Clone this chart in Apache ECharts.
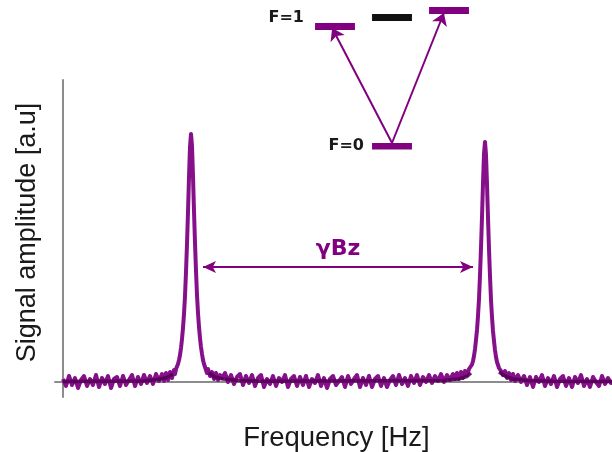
<!DOCTYPE html>
<html>
<head>
<meta charset="utf-8">
<script src="https://cdn.jsdelivr.net/npm/echarts@6/dist/echarts.min.js"></script>
<style>
  html, body { margin: 0; padding: 0; background: #fff; }
  #root { width: 612px; height: 452px; }
</style>
</head>
<body>
<div id="root"></div>
<script>
// spectrum: [frequency, amplitude]
const baselineLeft = [
  [0, 3], [3, -4], [6, 6], [9, -3], [12, 4], [15, -6], [18, 2], [21, 6], [24, -4],
  [27, 3], [30, -3], [33, 7], [36, -5], [39, 4], [42, -2], [45, 6], [48, -6], [51, 3],
  [54, 5], [57, -4], [60, 6], [63, -3], [66, 2], [69, 7], [72, -4], [75, 5],
  [78, -2], [81, 7], [84, -1], [87, 6], [90, -2], [93, 8], [96, 1]
];
const peakLeft = [
  [99, 8], [101, 1], [103, 9], [105, 2], [107, 10], [109, 4], [111, 12], [112, 8],
  [113, 13], [114, 15], [115, 18], [116, 22], [117, 27], [118, 34], [119, 43], [120, 54],
  [121, 68], [122, 86], [123, 110], [124, 138], [125, 170], [126, 205], [127, 235],
  [128, 248],
  [129, 236], [130, 206], [131, 171], [132, 139], [133, 111], [134, 87], [135, 69],
  [136, 55], [137, 44], [138, 35], [139, 28], [140, 22], [141, 18], [142, 15], [143, 13],
  [144, 9], [145, 13], [147, 6], [149, 10], [151, 3], [153, 9], [155, 2], [157, 7]
];
const baselineMid = [
  [159, 4], [162, 9], [165, 0], [168, 7], [171, -2], [174, 5], [177, 8], [180, -3],
  [183, 6], [186, -1], [189, 7], [192, -4], [195, 4], [198, 7], [201, -5], [204, 3],
  [207, -2], [210, 6], [213, -4], [216, 4], [219, 0], [222, 7], [225, -5], [228, 3],
  [231, 6], [234, -4], [237, 5], [240, -3], [243, 6], [246, -5], [249, 3], [252, -1],
  [255, 7], [258, -4], [261, 4], [264, -6], [267, 3], [270, 6], [273, -3], [276, 1],
  [279, 5], [282, -5], [285, 6], [288, -2], [291, 3], [294, 7], [297, -5], [300, 4],
  [303, -3], [306, 6], [309, -5], [312, 3], [315, 6], [318, -4], [321, 4], [324, -5],
  [327, 2], [330, 6], [333, -3], [336, 7], [339, -2], [342, 4], [345, -4], [348, 6],
  [351, -1], [354, 7], [357, -3], [360, 5], [363, 0], [366, 7], [369, -1], [372, 6],
  [375, 1], [378, 8], [381, 0], [384, 7], [387, 2], [390, 8]
];
const peakRight = [
  [392, 3], [394, 9], [396, 3], [398, 10], [400, 4], [402, 11], [404, 7], [406, 13],
  [407, 12.5], [408, 14.5], [409, 17.5], [410, 21], [411, 26], [412, 33], [413, 42],
  [414, 52], [415, 66], [416, 83], [417, 107], [418, 134], [419, 165], [420, 199],
  [421, 228], [422, 240],
  [423, 227], [424, 198], [425, 164], [426, 133], [427, 106], [428, 82], [429, 65],
  [430, 51], [431, 41], [432, 32], [433, 25], [434, 20], [435, 17], [436, 14], [437, 12.5],
  [438, 11], [440, 7], [442, 11], [444, 4], [446, 9], [448, 2], [450, 8], [452, 1]
];
const baselineRight = [
  [455, 7], [458, 0], [461, 6], [464, -3], [467, 5], [470, -5], [473, 5], [476, 0],
  [479, 7], [482, -4], [485, 4], [488, -2], [491, 6], [494, -5], [497, 3], [500, 6],
  [503, -4], [506, 4], [509, -5], [512, 5], [515, -1], [518, 7], [521, -4], [524, 3],
  [527, -5], [530, 5], [533, 0], [536, -4], [539, 6], [542, -2], [545, 4], [548, -1],
  [549, 2]
];
// dense middle of the noise band (darker core), '-' breaks it at the peaks
const baselineCore = [
  [0, 0.5], [80, 1], [95, 2.5], [104, 4.5], [110, 8], [111, '-'],
  [146, 9], [152, 5], [160, 3], [175, 1.5], [200, 0.8], [380, 1.5], [395, 3],
  [404, 5.5], [408, 9], [409, '-'],
  [436, 10], [442, 6], [450, 3], [465, 1.5], [490, 0.8], [549, 0.5]
];
// splitting between the two peaks (gamma*Bz arrow)
const splitting = [[140, 115], [410, 115]];

// level diagram: mF sublevels, energies above F=0
const mF = [-1, 0, 1];
const f1Energy = [120, 129, 136];
const f0Energy = 0;
const barHalf = 0.35;
const transitions = [
  [[0, 3], [-1.05, 118]],
  [[0, 3], [0.91, 133]]
];

const purple = '#800080';
const signal = [].concat(baselineLeft, peakLeft, baselineMid, peakRight, baselineRight);

const levelLines = mF.map((m, i) => ({
  coords: [[m - barHalf, f1Energy[i]], [m + barHalf, f1Energy[i]]],
  lineStyle: { color: m === 0 ? '#111' : purple }
}));
levelLines.push({
  coords: [[-barHalf, f0Energy], [barHalf, f0Energy]],
  lineStyle: { color: purple }
});

let myChart = echarts.init(document.getElementById('root'), null, { renderer: 'canvas' });

let option = {
  animation: false,
  grid: [
    { left: 55, right: 0, top: 80, bottom: 55, outerBoundsMode: 'none' },
    { left: 278, width: 228, top: 0, height: 146, outerBoundsMode: 'none' }
  ],
  xAxis: [
    {
      type: 'value', min: -8, max: 549,
      axisLine: { onZero: true, lineStyle: { color: '#8c8c8c', width: 2 } },
      axisTick: { show: false }, axisLabel: { show: false }, splitLine: { show: false },
      name: 'Frequency [Hz]', nameLocation: 'middle', nameGap: 27,
      nameTextStyle: { fontFamily: 'Liberation Sans', fontSize: 27.5, color: '#1a1a1a', padding: [0, 0, 0, 6] }
    },
    { gridIndex: 1, type: 'value', min: -2, max: 2, show: false }
  ],
  yAxis: [
    {
      type: 'value', min: -15, max: 302,
      axisLine: { show: true, onZero: true, lineStyle: { color: '#8c8c8c', width: 2 } },
      axisTick: { show: false }, axisLabel: { show: false }, splitLine: { show: false },
      name: 'Signal amplitude [a.u]', nameLocation: 'middle', nameRotate: 90, nameGap: 14,
      nameTextStyle: { fontFamily: 'Liberation Sans', fontSize: 27, color: '#1a1a1a', padding: [0, 0, 0, 12] }
    },
    { gridIndex: 1, type: 'value', min: 0, max: 146, show: false }
  ],
  series: [
    {
      type: 'line',
      data: signal,
      showSymbol: false,
      lineStyle: { color: '#86108a', width: 4, join: 'round' },
      z: 3,
      markLine: {
        silent: true,
        symbol: ['arrow', 'arrow'],
        symbolSize: [9, 13],
        lineStyle: { color: purple, width: 2, type: 'solid' },
        label: {
          show: true, position: 'middle', formatter: 'γBz', distance: 7,
          color: purple, fontFamily: 'DejaVu Sans', fontWeight: 'bold', fontSize: 22
        },
        data: [[{ coord: splitting[0] }, { coord: splitting[1] }]]
      }
    },
    {
      type: 'line',
      data: baselineCore,
      showSymbol: false,
      connectNulls: false,
      lineStyle: { color: '#520052', width: 3.5, opacity: 0.85 },
      z: 4
    },
    {
      type: 'lines',
      coordinateSystem: 'cartesian2d',
      xAxisIndex: 1, yAxisIndex: 1,
      lineStyle: { width: 7, opacity: 1 },
      data: levelLines,
      z: 4
    },
    {
      type: 'lines',
      coordinateSystem: 'cartesian2d',
      xAxisIndex: 1, yAxisIndex: 1,
      symbol: ['none', 'arrow'],
      symbolSize: 12,
      lineStyle: { width: 2, color: purple, opacity: 1 },
      data: transitions.map(c => ({ coords: c })),
      z: 3
    }
  ],
  graphic: [
    {
      type: 'text', right: 612 - 304, top: 10,
      style: { text: 'F=1', font: 'bold 16px "DejaVu Sans"', fill: '#1a1a1a' }
    },
    {
      type: 'text', right: 612 - 364, top: 138,
      style: { text: 'F=0', font: 'bold 16px "DejaVu Sans"', fill: '#1a1a1a' }
    }
  ]
};

myChart.setOption(option);
</script>
</body>
</html>
